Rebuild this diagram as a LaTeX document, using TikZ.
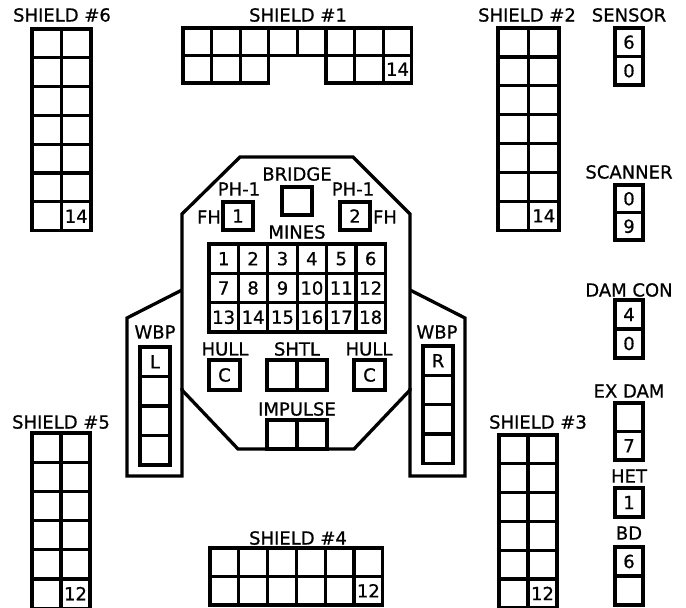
\documentclass[tikz,border=0pt]{standalone}
\usepackage{fontspec}
\setmainfont{DejaVu Sans}
\newfontfamily\labfont{DejaVu Sans}[FakeBold=0.7]
\newcommand\mkgrid[7]{% name, x0, y0, w, h, cols, rows
  \foreach \r in {1,...,#7}{\foreach \c in {1,...,#6}{
    \node[cell, minimum width=#4pt, minimum height=#5pt] (#1-\r-\c) at ({#2+(\c-0.5)*#4},{#3+(\r-0.5)*#5}) {};
  }}}
\begin{document}
\begin{tikzpicture}[x=1pt,y=-1pt,
  cell/.style={draw, line width=3.3pt, inner sep=0pt, font=\labfont\fontsize{18}{18}\selectfont},
  lab/.style={inner sep=0pt, font=\labfont\fontsize{18}{18}\selectfont},
  hullline/.style={draw, line width=3.3pt, line join=miter}]
\useasboundingbox (0,0) rectangle (686,608);

% ---------- shields ----------
\mkgrid{s6}{32}{29}{29.5}{28.8}{2}{7}
\node[lab] (s6lab) at (62,15) {SHIELD \#6};
\node[lab] (s6n) at (s6-7-2) {14};

\foreach \c in {1,...,8}{
  \node[cell, minimum width=28.6pt, minimum height=27.5pt] (s1-1-\c) at ({183+(\c-0.5)*28.6},{28+0.5*27.5}) {};}
\foreach \c in {1,2,3,6,7,8}{
  \node[cell, minimum width=28.6pt, minimum height=27.5pt] (s1-2-\c) at ({183+(\c-0.5)*28.6},{28+1.5*27.5}) {};}
\node[lab] (s1lab) at (298,15) {SHIELD \#1};
\node[lab] (s1n) at (s1-2-8) {14};

\mkgrid{s2}{498}{28}{30.5}{28.9}{2}{7}
\node[lab] (s2lab) at (527,15) {SHIELD \#2};
\node[lab] (s2n) at (s2-7-2) {14};

\mkgrid{s5}{32}{433}{29}{29.2}{2}{6}
\node[lab] (s5lab) at (61,422) {SHIELD \#5};
\node[lab] (s5n) at (s5-6-2) {12};

\mkgrid{s3}{499}{435}{29}{28.8}{2}{6}
\node[lab] (s3lab) at (538,422) {SHIELD \#3};
\node[lab] (s3n) at (s3-6-2) {12};

\mkgrid{s4}{210}{548}{28.8}{28.5}{6}{2}
\node[lab] (s4lab) at (298,538) {SHIELD \#4};
\node[lab] (s4n) at (s4-2-6) {12};

% ---------- right column ----------
\node[lab] (senlab) at (629,15) {SENSOR};
\node[cell, minimum width=28pt, minimum height=28.5pt] (sen1) at (629,42.25) {6};
\node[cell, minimum width=28pt, minimum height=28.5pt] (sen2) at (629,70.75) {0};

\node[lab] (scalab) at (629,172) {SCANNER};
\node[cell, minimum width=28pt, minimum height=27.5pt] (sca1) at (629,198.75) {0};
\node[cell, minimum width=28pt, minimum height=27.5pt] (sca2) at (629,226.25) {9};

\node[lab] (damlab) at (629,290) {DAM CON};
\node[cell, minimum width=28pt, minimum height=29pt] (dam1) at (629,314.5) {4};
\node[cell, minimum width=28pt, minimum height=29pt] (dam2) at (629,343.5) {0};

\node[lab] (exlab) at (629,391) {EX DAM};
\node[cell, minimum width=28pt, minimum height=28.5pt] (ex1) at (629,417.25) {};
\node[cell, minimum width=28pt, minimum height=28.5pt] (ex2) at (629,445.75) {7};

\node[lab] (hetlab) at (629,476) {HET};
\node[cell, minimum width=28pt, minimum height=29pt] (het1) at (629,502.5) {1};

\node[lab] (bdlab) at (629,533) {BD};
\node[cell, minimum width=28pt, minimum height=29pt] (bd1) at (629,561.5) {6};
\node[cell, minimum width=28pt, minimum height=29pt] (bd2) at (629,590.5) {};

% ---------- ship ----------
\path[hullline] (240,157) -- (353,157) -- (410,214) -- (410,390) -- (354,449)
  -- (238,449) -- (182,390) -- (182,214) -- cycle;
\path[hullline] (182,290) -- (127,318) -- (127,476) -- (182,476) -- (182,388);
\path[hullline] (410,290) -- (465,318) -- (465,476) -- (410,476) -- (410,388);

\node[lab] (brlab) at (297,174) {BRIDGE};
\node[cell, minimum width=30pt, minimum height=28pt] (bridge) at (297,201) {};

\node[lab] (ph1lab) at (239,189) {PH-1};
\node[cell, minimum width=30pt, minimum height=28pt] (ph1) at (238,216) {1};
\node[lab] (fh1) at (209,217) {FH};
\node[lab] (ph2lab) at (353,189) {PH-1};
\node[cell, minimum width=30pt, minimum height=28pt] (ph2) at (355,216) {2};
\node[lab] (fh2) at (385,217) {FH};

\node[lab] (mineslab) at (297,232) {MINES};
\foreach \r in {1,2,3}{\foreach \c in {1,...,6}{
  \pgfmathtruncatemacro\mnum{(\r-1)*6+\c}
  \node[cell, minimum width=29.4pt, minimum height=29.3pt] (m-\r-\c) at ({209+(\c-0.5)*29.4},{244+(\r-0.5)*29.3}) {\mnum};
}}

\node[lab] (wbpl) at (155,332) {WBP};
\mkgrid{wl}{140}{347}{30}{29.5}{1}{4}
\node[lab] (wlL) at (wl-1-1) {L};

\node[lab] (wbpr) at (437,332) {WBP};
\mkgrid{wr}{423}{346}{30}{29.3}{1}{4}
\node[lab] (wrR) at (wr-1-1) {R};

\node[lab] (hulll) at (225,349) {HULL};
\node[cell, minimum width=31pt, minimum height=30pt] (hullc1) at (224.5,375) {C};
\node[lab] (hullr) at (369,349) {HULL};
\node[cell, minimum width=31pt, minimum height=30pt] (hullc2) at (369.5,375) {C};

\node[lab] (shtllab) at (297,349) {SHTL};
\node[cell, minimum width=30pt, minimum height=30pt] (sh1) at (282,375) {};
\node[cell, minimum width=30pt, minimum height=30pt] (sh2) at (312,375) {};

\node[lab] (implab) at (297,409) {IMPULSE};
\node[cell, minimum width=30pt, minimum height=29pt] (im1) at (282,434.5) {};
\node[cell, minimum width=30pt, minimum height=29pt] (im2) at (312,434.5) {};
\end{tikzpicture}
\end{document}
